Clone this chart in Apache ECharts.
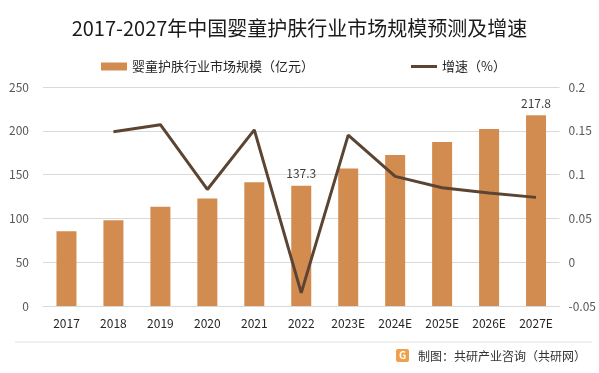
<!DOCTYPE html>
<html>
<head>
<meta charset="utf-8">
<script src="https://cdn.jsdelivr.net/npm/echarts@6/dist/echarts.min.js"></script>
<style>
html,body{margin:0;padding:0;background:#fff;}
#c{width:599px;height:373px;}
</style>
</head>
<body>
<div id="c"></div>
<script>
var categories = ['2017','2018','2019','2020','2021','2022','2023E','2024E','2025E','2026E','2027E'];
var marketSize = [85.3, 98.0, 113.4, 122.8, 141.3, 137.3, 157.1, 172.4, 187.2, 202.1, 217.8];
var growthRate = [null, 0.149, 0.157, 0.083, 0.151, -0.035, 0.145, 0.098, 0.085, 0.079, 0.074];
var labeledIndex = [5, 10];
var leftTicks = {min: 0, max: 250, interval: 50};
var rightTicks = {min: -0.05, max: 0.2, interval: 0.05};

var FONT = '"Noto Sans CJK SC", "Noto Sans", sans-serif';
var chart = echarts.init(document.getElementById('c'));
chart.setOption({
  backgroundColor: '#fff',
  textStyle: {fontFamily: FONT},
  title: {
    text: '2017-2027年中国婴童护肤行业市场规模预测及增速',
    left: 'center', top: 13,
    textStyle: {fontSize: 20, fontWeight: 'normal', color: '#1a1a1a', fontFamily: FONT}
  },
  legend: [{
    data: [{name: '婴童护肤行业市场规模（亿元）', icon: 'rect'}],
    left: 96, top: 55, itemWidth: 26, itemHeight: 8,
    textStyle: {fontSize: 13, color: '#262626', fontFamily: FONT}
  }, {
    data: [{name: '增速（%）', icon: 'rect'}],
    left: 406, top: 55, itemWidth: 26, itemHeight: 3,
    textStyle: {fontSize: 13, color: '#262626', fontFamily: FONT}
  }],
  grid: {left: 43, right: 38, top: 87, bottom: 67},
  xAxis: {
    type: 'category', data: categories,
    axisLine: {lineStyle: {color: '#d9d9d9'}},
    axisTick: {show: false},
    axisLabel: {color: '#262626', fontSize: 12, margin: 11, fontFamily: FONT}
  },
  yAxis: [{
    type: 'value', min: leftTicks.min, max: leftTicks.max, interval: leftTicks.interval,
    axisLine: {show: false}, axisTick: {show: false},
    axisLabel: {color: '#595959', fontSize: 12, margin: 14, fontFamily: FONT},
    splitLine: {lineStyle: {color: '#d9d9d9'}}
  }, {
    type: 'value', min: rightTicks.min, max: rightTicks.max, interval: rightTicks.interval,
    axisLine: {show: false}, axisTick: {show: false},
    axisLabel: {color: '#595959', fontSize: 12, margin: 9, fontFamily: FONT,
      formatter: function (v) { return String(Math.round(v * 100) / 100); }},
    splitLine: {show: false}
  }],
  series: [{
    name: '婴童护肤行业市场规模（亿元）',
    type: 'bar', data: marketSize.map(function (v, i) {
      return labeledIndex.indexOf(i) >= 0 ? {value: v, label: {show: true}} : v;
    }),
    barWidth: 20,
    itemStyle: {color: '#D38C4F'},
    label: {show: false, position: 'top', color: '#404040', fontSize: 12, distance: 6,
      formatter: function (p) { return p.value.toFixed(1); }},
    z: 2
  }, {
    name: '增速（%）',
    type: 'line', yAxisIndex: 1, data: growthRate,
    symbol: 'none',
    lineStyle: {color: '#5C4432', width: 3},
    itemStyle: {color: '#5C4432'},
    z: 3
  }],
  graphic: [
    {type: 'line', shape: {x1: 15, y1: 342, x2: 592, y2: 342}, style: {stroke: '#e0e0e0', lineWidth: 1}},
    {type: 'rect', shape: {x: 396, y: 349, width: 13, height: 13, r: 2}, style: {fill: '#F0A04B'}},
    {type: 'text', style: {x: 402.5, y: 355.5, text: 'G', fill: '#fff', fontSize: 10, fontWeight: 'bold', align: 'center', verticalAlign: 'middle', fontFamily: FONT}},
    {type: 'text', style: {x: 418, y: 356, text: '制图：共研产业咨询（共研网）', fill: '#333', fontSize: 12, verticalAlign: 'middle', fontFamily: FONT}}
  ]
});
</script>
</body>
</html>
